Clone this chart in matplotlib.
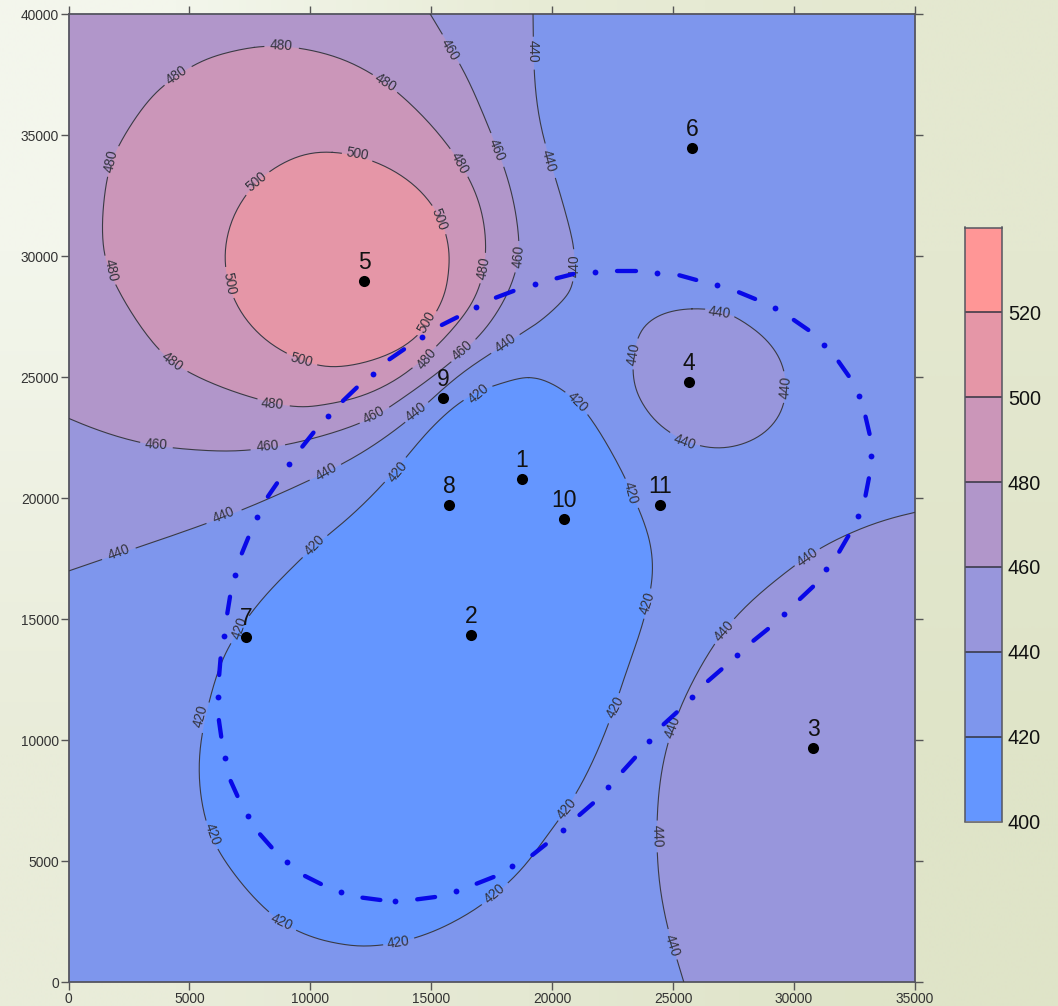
import numpy as np
import matplotlib
matplotlib.use('Agg')
import matplotlib.pyplot as plt

plt.rcParams['font.family'] = ['Liberation Sans', 'DejaVu Sans']

# contour lines, x and y in map units
c500_x = [10827, 12504, 13900, 15018, 15647, 15759, 15647, 15298, 14459, 13202, 11386, 10268, 8871, 7614, 6776, 6454, 6524, 7195, 8312, 9570]
c500_y = [34365, 34020, 33290, 32257, 30948, 29846, 28743, 27779, 26677, 25850, 25409, 25464, 26015, 26952, 28261, 29570, 30948, 32464, 33566, 34186]

c480_x = [7754, 8801, 10548, 12224, 13621, 14878, 15856, 16695, 17114, 17295, 17114, 16625, 15856, 14599, 13062, 11386, 9989, 9011, 6915, 4820, 3423, 1956, 1467, 1369, 1607, 2026, 3143, 3982, 5099, 6356]
c480_y = [38664, 38691, 38457, 37768, 36804, 35564, 34392, 33015, 31775, 30397, 29019, 27917, 26952, 25644, 24541, 23990, 23783, 23783, 24335, 25230, 26332, 28743, 29983, 31498, 33428, 34530, 36321, 37079, 37906, 38388]

c460_x = [0, 1327, 3004, 4401, 6077, 7474, 9011, 10408, 12154, 13202, 14599, 15856, 16834, 17812, 18511, 18650, 18511, 18092, 17393, 16695, 15996, 15437, 14962]
c460_y = [23301, 22750, 22268, 22061, 21937, 21965, 22199, 22543, 23094, 23714, 24679, 25644, 26539, 27710, 29295, 30397, 31775, 33566, 35220, 37010, 38250, 39215, 40000]

c440a_x = [0, 2724, 5798, 8173, 9989, 11525, 13202, 14878, 15996, 17393, 18511, 19068, 19763, 20598, 20877, 20946, 20737, 20181, 19624, 19346, 19235, 19207]
c440a_y = [16988, 17925, 18958, 19923, 20752, 21510, 22543, 23921, 25023, 25919, 26677, 27021, 27503, 28330, 28881, 30121, 31086, 33153, 34806, 36459, 37837, 40000]

c440b_x = [25747, 26860, 27555, 28529, 29225, 29642, 29670, 29225, 28390, 27277, 26164, 24912, 23938, 23451, 23311, 23451, 23938, 24773]
c440b_y = [27848, 27779, 27503, 26883, 26125, 25230, 24059, 23094, 22405, 22061, 22102, 22612, 23508, 24472, 25299, 26539, 27297, 27710]

c440c_x = [35000, 33677, 32286, 31034, 30060, 28808, 27555, 26720, 25886, 25190, 24773, 24494, 24355, 24327, 24355, 24564, 24912, 25190, 25440]
c440c_y = [19413, 19096, 18545, 17925, 17236, 16272, 15101, 13998, 12621, 11105, 9865, 8625, 7247, 6145, 4767, 3114, 1736, 840, 0]

c420_x = [19068, 19346, 20042, 20877, 21572, 22407, 23103, 23520, 23938, 24174, 24105, 23799, 23381, 22894, 22407, 21711, 21016, 20181, 19624, 19041, 18092, 17114, 15856, 14320, 12783, 11805, 10687, 9430, 8173, 6915, 6077, 5658, 5448, 5379, 5518, 5798, 6217, 6776, 7614, 8592, 9709, 10687, 12503, 14180, 15298, 16555, 17533, 18511]
c420_y = [24982, 24954, 24748, 24128, 23370, 21992, 20683, 19647, 18683, 17443, 16341, 14963, 13723, 12345, 10830, 9176, 7798, 6558, 5869, 4974, 4009, 3183, 2425, 1764, 1488, 1488, 1667, 2080, 2907, 4354, 5594, 6696, 7798, 9038, 10278, 11518, 13034, 14136, 15376, 16478, 17581, 18476, 19923, 21992, 23232, 24266, 24610, 24954]

# contour labels: x, y, angle
lab500 = [(11945, 34213, -10), (7754, 33084, 40), (15340, 31527, -70), (6636, 28881, -80), (9612, 25712, -15), (14809, 27255, 60)]
lab480 = [(8801, 38691, -3), (4470, 37492, 35), (13104, 37176, -32), (16164, 33841, -62), (1774, 33951, 78), (1746, 29432, -78), (17156, 29501, 80), (4289, 25644, -37), (14809, 25781, 50), (8424, 23880, -5)]
lab460 = [(15786, 38553, -60), (17700, 34392, -68), (18609, 30011, 85), (3632, 22226, -3), (8243, 22130, 4), (12643, 23439, 28), (16304, 26098, 42)]
lab440a = [(18092, 26401, 35), (14390, 23549, 38), (10659, 21069, 30), (6398, 19303, 22), (2096, 17746, 20), (19207, 38457, -90), (19833, 33951, -75), (20918, 29598, 90)]
lab440b = [(26929, 27669, -8), (23381, 25961, 80), (29642, 24582, 85), (25496, 22337, -20)]
lab440c = [(30547, 17553, 35), (27110, 14508, 48), (24981, 10526, 70), (24327, 6049, -88), (24953, 1529, -72)]
lab420 = [(21043, 23962, -45), (23242, 20201, -75), (23938, 15652, 72), (22616, 11339, 62), (20626, 7178, 50), (17645, 3665, 40), (13621, 1653, 8), (8801, 2479, -25), (5965, 6089, -70), (5476, 10993, 75), (7083, 14620, 70), (10198, 18035, 45), (13621, 21097, 50), (16946, 24307, 40)]

# wells
well_names = ['1', '2', '3', '4', '5', '6', '7', '8', '9', '10', '11']
well_x = [18750, 16642, 30783, 25654, 12218, 25780, 7339, 15732, 15484, 20487, 24457]
well_y = [20792, 14343, 9672, 24804, 28975, 34472, 14260, 19717, 24143, 19138, 19717]

# blue dash-dot boundary, each dash is x0, y0, x1, y1
dashes = [(17672, 28289, 18399, 28564), (15437, 27159, 16066, 27476), (13272, 25740, 13873, 26153), (11344, 24018, 11917, 24569),
          (9668, 22130, 10129, 22709), (8243, 20063, 8620, 20614), (20181, 29088, 20877, 29267), (22685, 29391, 23451, 29391),
          (25259, 29212, 25955, 29019), (27722, 28509, 28390, 28233), (29990, 27366, 30589, 26952), (31841, 25644, 32258, 25051),
          (32954, 23370, 33121, 22654), (33093, 20821, 32954, 20105), (31869, 17787, 32244, 18435), (30241, 15831, 30783, 16341),
          (28321, 14108, 28919, 14591), (26442, 12442, 26999, 12924), (24606, 10650, 25148, 11146), (22922, 8721, 23423, 9273),
          (21127, 6903, 21684, 7385), (19179, 5249, 19736, 5690), (16876, 4065, 17575, 4340), (14418, 3417, 15158, 3513),
          (12154, 3486, 12895, 3389), (9779, 4381, 10436, 4051), (7921, 6104, 8396, 5566), (6706, 8308, 6985, 7688),
          (6217, 10830, 6315, 10141), (6287, 13378, 6231, 12690), (6678, 15927, 6566, 15238), (7432, 18366, 7167, 17718)]
dots_x = [16862, 14627, 12573, 10729, 9123, 19276, 21781, 24327, 26832, 29211, 31257, 32676, 33163, 32634, 31340, 29587, 27653, 25760, 23993, 22296, 20445, 18357, 16024, 13509, 11274, 9039, 7404, 6454, 6175, 6426, 6873, 7795]
dots_y = [27917, 26663, 25134, 23384, 21400, 28840, 29350, 29322, 28798, 27848, 26346, 24224, 21744, 19262, 17057, 15197, 13530, 11794, 9948, 8046, 6283, 4795, 3748, 3362, 3706, 4946, 6875, 9245, 11766, 14315, 16809, 19207]

levels = [400, 420, 440, 460, 480, 500, 520, 540]
band_colors = ['#6496FF', '#7E96ED', '#9896DC', '#B196CA', '#CB96B9', '#E596A7', '#FF9696']
xticks = [0, 5000, 10000, 15000, 20000, 25000, 30000, 35000]
yticks = [0, 5000, 10000, 15000, 20000, 25000, 30000, 35000, 40000]

LINE = '#3a3a44'
GAP = 640  # half length of the hole a label leaves in its line
WIN = 21   # samples in the running mean that takes the kinks out of the hand read points


def smooth(x, y, closed=False, n=12):
    p = np.column_stack([x, y]).astype(float)
    if closed:
        p = np.vstack([p[-1], p, p[0], p[1]])
    else:
        p = np.vstack([2 * p[0] - p[1], p, 2 * p[-1] - p[-2]])
    t = np.linspace(0, 1, n, endpoint=False)[:, None]
    out = []
    for i in range(1, len(p) - 2):
        a, b, c, d = p[i - 1], p[i], p[i + 1], p[i + 2]
        out.append(0.5 * (2 * b + (c - a) * t + (2 * a - 5 * b + 4 * c - d) * t ** 2 + (3 * b - a - 3 * c + d) * t ** 3))
    out.append(p[-2][None, :])
    out = np.vstack(out)
    h = WIN // 2
    if closed:
        pad = np.vstack([out[-h - 1:-1], out, out[1:h + 1]])
    else:
        # mirror through the end points so the ends stay on the map edge
        pad = np.vstack([2 * out[0] - out[h:0:-1], out, 2 * out[-1] - out[-2:-h - 2:-1]])
    kernel = np.ones(WIN) / WIN
    res = np.column_stack([np.convolve(pad[:, k], kernel, mode='valid') for k in range(2)])
    return res[:, 0], res[:, 1]


def contour(ax, x, y, color, labels, text, closed=False, corners=()):
    sx, sy = smooth(x, y, closed)
    fx = np.concatenate([sx, [c[0] for c in corners]])
    fy = np.concatenate([sy, [c[1] for c in corners]])
    ax.fill(fx, fy, color=color, lw=0, zorder=2)
    return sx, sy, labels, text


fig = plt.figure(figsize=(10.58, 10.06), dpi=100)

# slide background
bg = fig.add_axes([0, 0, 1, 1], zorder=-1)
bg_colors = np.array([[[243, 246, 236], [232, 236, 214], [228, 232, 208]],
                      [[233, 236, 217], [228, 232, 210], [223, 228, 200]]]) / 255
bg.imshow(bg_colors, aspect='auto', interpolation='bilinear')
bg.axis('off')

ax = fig.add_axes([68.5 / 1058, (1006 - 982) / 1006, 846.5 / 1058, 967.7 / 1006])
ax.set_facecolor(band_colors[1])

lines = [
    contour(ax, c440a_x, c440a_y, band_colors[2], lab440a, '440', corners=[(0, 40000)]),
    contour(ax, c440b_x, c440b_y, band_colors[2], lab440b, '440', closed=True),
    contour(ax, c440c_x, c440c_y, band_colors[2], lab440c, '440', corners=[(35000, 0)]),
    contour(ax, c460_x, c460_y, band_colors[3], lab460, '460', corners=[(0, 40000)]),
    contour(ax, c480_x, c480_y, band_colors[4], lab480, '480', closed=True),
    contour(ax, c500_x, c500_y, band_colors[5], lab500, '500', closed=True),
    contour(ax, c420_x, c420_y, band_colors[0], lab420, '420', closed=True),
]

# lines with a hole at each label
for sx, sy, labels, text in lines:
    sx = np.array(sx)
    sy = np.array(sy)
    for lx, ly, ang in labels:
        near = np.hypot(sx - lx, sy - ly) < GAP
        sy = np.where(near, np.nan, sy)
        ax.text(lx, ly, text, rotation=ang, rotation_mode='anchor', ha='center', va='center',
                fontsize=9.8, color='#33333d', zorder=4)
    ax.plot(sx, sy, color=LINE, lw=0.8, zorder=3)

for x0, y0, x1, y1 in dashes:
    ax.plot([x0, x1], [y0, y1], color='#0808E8', lw=3.1, solid_capstyle='round', zorder=5)
ax.plot(dots_x, dots_y, 'o', color='#0808E8', ms=4.2, mew=0, zorder=5)

ax.plot(well_x, well_y, 'o', color='black', ms=8, mew=0, zorder=6)
for name, wx, wy in zip(well_names, well_x, well_y):
    ax.annotate(name, (wx, wy), xytext=(0, 5), textcoords='offset points', ha='center', va='bottom',
                fontsize=16.5, color='#111111', zorder=7)

ax.set_xlim(0, 35000)
ax.set_ylim(0, 40000)
ax.set_xticks(xticks)
ax.set_yticks(yticks)
ax.tick_params(axis='both', top=True, right=True, direction='out', length=5.8, width=1, color='#555555',
               labelsize=9.9, labelcolor='#333333', pad=1)
ax.tick_params(axis='x', pad=1.5)
for s in ax.spines.values():
    s.set_color('#555560')
    s.set_linewidth(1.3)

# colour scale
cax = fig.add_axes([965 / 1058, (1006 - 821.5) / 1006, 36.5 / 1058, 594 / 1006])
cax.pcolormesh([0, 1], levels, np.arange(7)[:, None], cmap=matplotlib.colors.ListedColormap(band_colors), vmin=-0.5, vmax=6.5)
cax.hlines(levels[1:-1], 0, 1, color='#333340', lw=1.1)
cax.set_xlim(0, 1)
cax.set_ylim(400, 540)
cax.set_xticks([])
cax.yaxis.tick_right()
cax.set_yticks(levels[:-1])
cax.tick_params(axis='y', length=0, labelsize=14.3, labelcolor='#111111', pad=4.5)
for s in cax.spines.values():
    s.set_color('#555560')
    s.set_linewidth(1.1)

fig.savefig('out.png', dpi=100)
